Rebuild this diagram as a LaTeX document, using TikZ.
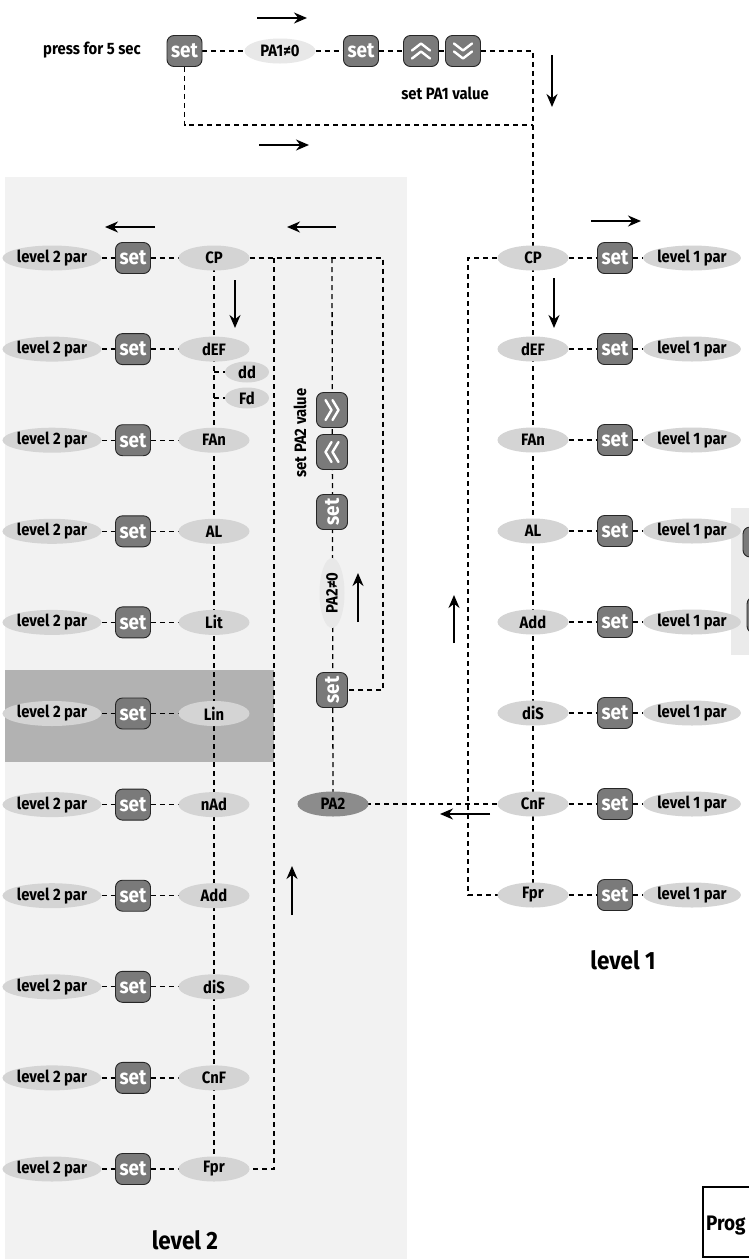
\documentclass[tikz,border=0pt]{standalone}
\usepackage{fontspec}
\setmainfont{Fira Sans}[FakeStretch=0.9]
\usetikzlibrary{shapes.geometric,arrows.meta}
\pgfdeclarelayer{bg}
\pgfdeclarelayer{ln}
\pgfsetlayers{bg,ln,main}
\newcommand\lblfont{\fontsize{16.5}{16.5}\selectfont\bfseries}
\newcommand\btnfont{\fontsize{21}{21}\selectfont\bfseries}
\newcommand\bigfont{\fontsize{25}{25}\selectfont\bfseries}
\newcommand\progfont{\fontsize{21}{21}\selectfont\bfseries}
\begin{document}
\begin{tikzpicture}[x=1pt,y=-1pt,
  ell/.style={ellipse, fill=black!17, minimum width=71pt, minimum height=25pt, inner sep=0pt, font=\lblfont},
  small/.style={ellipse, fill=black!17, minimum width=44pt, minimum height=21pt, inner sep=0pt, font=\lblfont},
  btn/.style={draw=black!85, fill=black!52, rounded corners=7pt, minimum width=35pt, minimum height=31pt, inner sep=0pt, line width=0.9pt, text=white, font=\btnfont},
  dsh/.style={dash pattern=on 5pt off 4pt, line width=1.3pt},
  arr/.style={-{Stealth[length=13pt,width=11pt]}, line width=1.8pt},
  chev/.style={white, line width=2.4pt, line cap=round, line join=round},
  lbl/.style={font=\lblfont, inner sep=0pt}]
\useasboundingbox (0,0) rectangle (749,1259);
\begin{pgfonlayer}{bg}
  \fill[white] (0,0) rectangle (749,1259);
  \fill[black!5] (5,177) rectangle (407,1259);
  \fill[black!30] (5,670) rectangle (274,762);
  \fill[black!8] (731,508) rectangle (760,655);
\end{pgfonlayer}

% ---- top section
\node[lbl] (press) at (92,50) {press for 5 sec};
\node[btn] (set1) at (184.5,51) {set};
\node[ell, fill=black!9] (pa1) at (280,51) {PA1≠0};
\node[btn] (set2) at (361,51) {set};
\node[btn] (up) at (421,51) {};
\node[btn] (dn) at (463,51) {};
\node[lbl] (v1) at (445,93) {set PA1 value};
\coordinate (tc) at (533,51);
\coordinate (bl) at (184.5,125);
\coordinate (br) at (533,125);

% ---- level 2
\foreach \t [count=\i from 0] in {CP,dEF,FAn,AL,Lit,Lin,nAd,Add,diS,CnF,Fpr}{
  \pgfmathsetmacro\yy{258+91.1*\i}
  \node[ell] (a\i) at (52,\yy) {level 2 par};
  \node[btn] (b\i) at (133,\yy) {set};
  \node[ell] (q\i) at (214,\yy) {\t};
}
\node[small] (dd) at (247,372) {dd};
\node[small] (fd) at (247,398) {Fd};
\node[btn, rotate=90] (ff) at (332,410) {};
\node[btn, rotate=90] (bb) at (332,452) {};
\node[btn, rotate=90] (sr) at (332,512) {set};
\node[ell, fill=black!9, rotate=90, minimum width=70pt] (pa2n) at (332,593) {PA2≠0};
\node[btn, rotate=90] (sb) at (332,690) {set};
\node[ell, fill=black!45] (pa2) at (333,804) {PA2};
\node[lbl, rotate=90] (v2) at (300,433) {set PA2 value};
\node[font=\bigfont] (lev2) at (185,1240) {level 2};
\coordinate (c1) at (383,258);
\coordinate (c3) at (332,258);
\coordinate (c4) at (274,258);

% ---- level 1
\foreach \t [count=\i from 0] in {CP,dEF,FAn,AL,Add,diS,CnF,Fpr}{
  \pgfmathsetmacro\yy{258+91*\i}
  \node[ell] (r\i) at (533,\yy) {\t};
  \node[btn] (s\i) at (615,\yy) {set};
  \node[ell] (t\i) at (692,\yy) {level 1 par};
}
\node[font=\bigfont] (lev1) at (623,960) {level 1};
\coordinate (c5) at (468,258);

% ---- cut-off items at right edge
\node[btn, minimum width=40pt, minimum height=30pt] (e1) at (763,542) {};
\node[btn, minimum width=40pt, minimum height=36pt] (e2) at (767,615) {};
\node[draw, line width=1.2pt, minimum width=100pt, minimum height=70pt, inner sep=0pt] (pbox) at (753,1222) {};
\node[font=\progfont, anchor=west, inner sep=0pt] (prog) at (706,1226) {Prog};

% ---- connectors
\begin{pgfonlayer}{ln}
  \foreach \i in {0,...,10}{\draw[dsh] (a\i.east) -- (b\i.west) (b\i.east) -- (q\i.west);}
  \foreach \i in {0,...,7}{\draw[dsh] (r\i.east) -- (s\i.west) (s\i.east) -- (t\i.west);}
  \draw[dsh] (set1.east) -- (pa1.west) (pa1.east) -- (set2.west) (set2.east) -- (up.west) (up.east) -- (dn.west);
  \draw[dsh] (dn.east) -- (tc) -- (r0.center);
  \draw[dsh] (set1.south) -- (bl) -- (br);
  \draw[dsh] (q0.center) -- (q10.center);
  \draw[dsh] (q1.center |- dd.center) -- (dd.center) (q1.center |- fd.center) -- (fd.center);
  \draw[dsh] (q0.east) -- (c1) |- (sb.center);
  \draw[dsh] (c3) -- (pa2.center);
  \draw[dsh] (c4) |- (q10.center);
  \draw[dsh] (r0.center) -- (r7.center);
  \draw[dsh] (r0.center) -- (c5) |- (r7.center);
  \draw[dsh] (r6.center) -- (pa2.center);
\end{pgfonlayer}

% ---- chevrons
\begin{scope}[shift={(up.center)}]
  \draw[chev] (-9,-0.5) -- (0,-7.5) -- (9,-0.5) (-9,7.5) -- (0,0.5) -- (9,7.5);
\end{scope}
\begin{scope}[shift={(dn.center)}]
  \draw[chev] (-9,-7.5) -- (0,-0.5) -- (9,-7.5) (-9,0.5) -- (0,7.5) -- (9,0.5);
\end{scope}
\begin{scope}[shift={(ff.center)}]
  \draw[chev] (-6.5,-10) -- (-0.5,0) -- (-6.5,10) (0.5,-10) -- (6.5,0) -- (0.5,10);
\end{scope}
\begin{scope}[shift={(bb.center)}]
  \draw[chev] (6.5,-10) -- (0.5,0) -- (6.5,10) (-0.5,-10) -- (-6.5,0) -- (-0.5,10);
\end{scope}

% ---- direction arrows
\draw[arr] (257,18) -- (307,18);
\draw[arr] (259,145) -- (309,145);
\draw[arr] (552,55) -- (552,107);
\draw[arr] (155,227) -- (105,227);
\draw[arr] (336,227) -- (287,227);
\draw[arr] (235,280) -- (235,328);
\draw[arr] (292,915) -- (292,866);
\draw[arr] (358,622) -- (358,573);
\draw[arr] (591,221) -- (641,221);
\draw[arr] (554,278) -- (554,328);
\draw[arr] (454,643) -- (454,595);
\draw[arr] (490,814) -- (440,814);
\end{tikzpicture}
\end{document}
